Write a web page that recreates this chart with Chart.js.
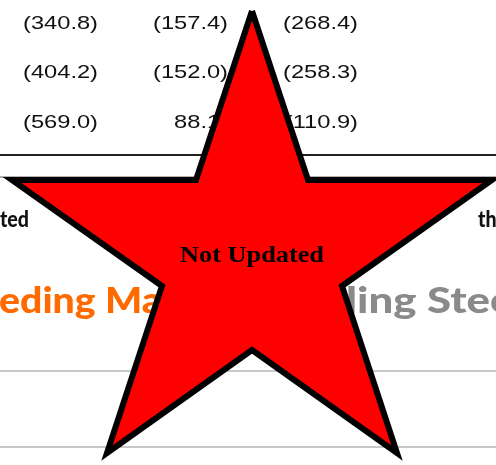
<!DOCTYPE html>
<html>
<head>
<meta charset="utf-8">
<script src="https://cdn.jsdelivr.net/npm/chart.js@4.4.1/dist/chart.umd.min.js"></script>
<style>
  html, body { margin: 0; padding: 0; background: #fff; }
  #wrap { width: 496px; height: 465px; }
</style>
</head>
<body>
<div id="wrap"><canvas id="chart" width="496" height="465"></canvas></div>
<script>
// table values behind the stamp, one list per column (negatives shown in brackets)
const colA = [-340.8, -404.2, -569.0];
const colB = [-157.4, -152.0, 88.1];
const colC = [-268.4, -258.3, -110.9];

// star vertices (clockwise from the top point)
const starX = [252, 308, 492, 342, 397, 252, 107, 162, 12, 196, 252];
const starY = [11, 180, 180, 286, 453, 350, 453, 286, 180, 180, 11];

const stampLabel = "Not Updated";
const ruleY = [155, 177, 371, 447];

// layout for the background page
const rowBase = [29, 78, 128];
const colRight = [98, 228, 358];

function fmt(v) {
    return v < 0 ? "(" + Math.abs(v).toFixed(1) + ")" : v.toFixed(1);
}

// draw text squeezed/stretched horizontally so `ref` spans `refWidth`
function stretchText(ctx, str, x, y, font, color, ref, refWidth, align) {
    ctx.save();
    ctx.font = font;
    ctx.fillStyle = color;
    ctx.textBaseline = "alphabetic";
    ctx.textAlign = "left";
    const sx = refWidth / ctx.measureText(ref).width;
    const w = ctx.measureText(str).width * sx;
    let left = x;
    if (align === "right") left = x - w;
    if (align === "center") left = x - w / 2;
    ctx.translate(left, y);
    ctx.scale(sx, 1);
    ctx.fillText(str, 0, 0);
    ctx.restore();
}

const pagePlugin = {
    id: "page",
    beforeDatasetsDraw(chart) {
        const ctx = chart.ctx;
        const ys = chart.scales.y;

        // rules
        const ruleStyle = [
            { c: "#222", w: 2 },
            { c: "#9a9a9a", w: 1.5 },
            { c: "#c8c8c8", w: 2 },
            { c: "#c8c8c8", w: 2 },
        ];
        ruleY.forEach((v, i) => {
            const py = ys.getPixelForValue(v);
            ctx.save();
            ctx.strokeStyle = ruleStyle[i].c;
            ctx.lineWidth = ruleStyle[i].w;
            ctx.beginPath();
            ctx.moveTo(0, py);
            ctx.lineTo(496, py);
            ctx.stroke();
            ctx.restore();
        });

        // numbers
        const numFont = "19px 'Liberation Sans', Arial, sans-serif";
        ctx.font = numFont;
        const sx = 75 / ctx.measureText("(340.8)").width;
        const parenW = ctx.measureText(")").width * sx;
        [colA, colB, colC].forEach((col, c) => {
            col.forEach((v, r) => {
                const right = v < 0 ? colRight[c] : colRight[c] - parenW;
                stretchText(ctx, fmt(v), right, rowBase[r], numFont, "#111",
                    "(340.8)", 75, "right");
            });
        });

        // headings peeking out at the edges
        const smallBold = "900 22px Lato, 'DejaVu Sans', sans-serif";
        stretchText(ctx, "ted", 0, 227, smallBold, "#111", "ted", 29, "left");
        stretchText(ctx, "the", 478, 227, smallBold, "#111", "ted", 29, "left");

        const bigBold = "900 36px Lato, 'DejaVu Sans', sans-serif";
        stretchText(ctx, "eding Markets", -1, 313, bigBold, "#ff6a00", "eding ", 106, "left");
        stretchText(ctx, "ling Steel", 346, 313, bigBold, "#8a8a8a", "ling ", 81, "left");
    },
    afterDatasetsDraw(chart) {
        const ctx = chart.ctx;
        const x = chart.scales.x.getPixelForValue(252);
        const y = chart.scales.y.getPixelForValue(262);
        stretchText(ctx, stampLabel, x, y, "bold 24px 'Liberation Serif', 'Times New Roman', serif",
            "#000", stampLabel, 144, "center");
    },
};

const starPoints = starX.map((x, i) => ({ x: x, y: starY[i] }));

new Chart(document.getElementById("chart"), {
    type: "scatter",
    data: {
        datasets: [{
            data: starPoints,
            showLine: true,
            fill: "shape",
            backgroundColor: "#ff0000",
            borderColor: "#000",
            borderWidth: 6,
            borderJoinStyle: "miter",
            tension: 0,
            pointRadius: 0,
            pointHoverRadius: 0,
        }],
    },
    options: {
        responsive: false,
        animation: false,
        events: [],
        layout: { padding: 0 },
        plugins: { legend: { display: false }, tooltip: { enabled: false } },
        scales: {
            x: { type: "linear", min: 0, max: 496, display: false },
            y: { type: "linear", min: 0, max: 465, reverse: true, display: false },
        },
    },
    plugins: [pagePlugin],
});
</script>
</body>
</html>
